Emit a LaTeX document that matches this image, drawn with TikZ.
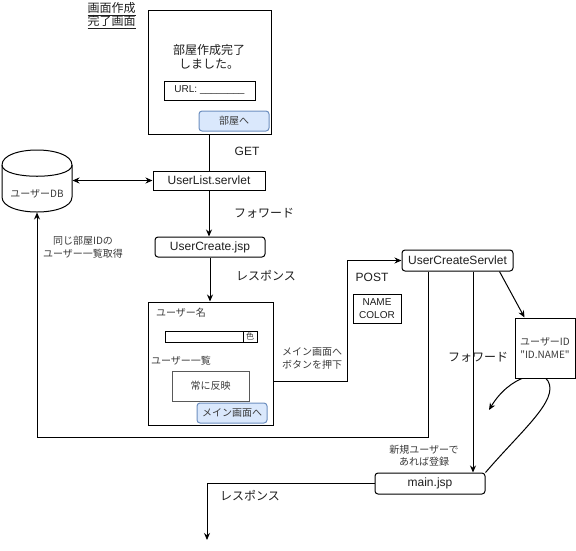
\documentclass[tikz,border=0pt]{standalone}
\usepackage{fontspec}
\setmainfont{Liberation Sans}
\newfontfamily\jp{Noto Sans CJK JP}
\usetikzlibrary{arrows.meta,calc}
\definecolor{btnfill}{HTML}{DAE8FC}
\definecolor{btnline}{HTML}{6C8EBF}
\definecolor{softtext}{HTML}{3A3A3A}
\definecolor{maintext}{HTML}{1E1E1E}
\newcommand{\fsL}{\fontsize{12}{14}\selectfont}
\newcommand{\fsS}{\fontsize{10}{12.5}\selectfont}

\begin{document}
\begin{tikzpicture}[x=1pt,y=-1pt,
  line width=1pt,
  every node/.style={text=maintext},
  box/.style={draw, inner sep=0pt, align=center},
  rbox/.style={box, rounded corners=3pt},
  btn/.style={rbox, fill=btnfill, draw=btnline, font=\jp\fsS, text=softtext},
  lbl/.style={inner sep=0pt, align=center},
  small/.style={lbl, font=\jp\fsS, text=softtext},
  arr/.style={-{Stealth[length=7pt,width=6pt]}},
  arrboth/.style={{Stealth[length=7pt,width=6pt]}-{Stealth[length=7pt,width=6pt]}},
]
\useasboundingbox (0,0) rectangle (576,550);

% --- screen: room created ---
\node[lbl, font=\jp\fontsize{12}{13.5}\selectfont] (title) at (111.5,15.5)
  {\underline{画面作成}\\\underline{完了画面}};
\node[box, minimum width=123pt, minimum height=124pt] (scr1) at (209.5,72) {};
\node[lbl, font=\jp\fsL] (done) at (209,57) {部屋作成完了\\しました。};
\node[box, font=\fsS, minimum width=91pt, minimum height=19pt] (url) at (209.5,90.5)
  {URL: \_\_\_\_\_\_\_\_};
\node[btn, minimum width=70pt, minimum height=20pt] (btn1) at (234,121) {部屋へ};

% --- user database (cylinder) ---
\node[inner sep=0pt, minimum width=70pt, minimum height=62pt] (db) at (37,181) {};
\draw (2,165) .. controls (2,145) and (72,145) .. (72,165) -- (72,197)
  .. controls (72,217) and (2,217) .. (2,197) -- cycle;
\draw (2,165) .. controls (2,180) and (72,180) .. (72,165);
\node[small] (dbname) at (37,194) {ユーザーDB};

% --- servlets and pages ---
\node[box, font=\fsL, minimum width=112pt, minimum height=19pt] (uls) at (209,180.5) {UserList.servlet};
\node[rbox, font=\fsL, minimum width=110pt, minimum height=20pt] (ucj) at (210,247) {UserCreate.jsp};
\node[rbox, font=\fsL, minimum width=111pt, minimum height=21pt] (ucs) at (457.5,260.5) {UserCreateServlet};
\node[rbox, font=\fsL, minimum width=110pt, minimum height=21pt] (mj) at (430,483.5) {main.jsp};
\node[box, font=\fsS, minimum width=48pt, minimum height=29pt] (nc) at (377,308.5) {NAME\\COLOR};

% --- screen: user creation ---
\node[box, minimum width=125pt, minimum height=123pt] (scr2) at (210.5,363.5) {};
\node[small] (uname) at (181,313) {ユーザー名};
\node[box, minimum width=78pt, minimum height=11pt] (namein) at (204,336.5) {};
\node[box, font=\jp\fontsize{8}{9}\selectfont, text=softtext, minimum width=14pt, minimum height=11pt] (colorin) at (250,336.5) {色};
\node[small] (ulist) at (181,361) {ユーザー一覧};
\node[box, draw=gray!70!black, font=\jp\fsS, text=softtext, minimum width=77pt, minimum height=30pt] (always) at (210.5,386) {常に反映};
\node[btn, minimum width=70pt, minimum height=20pt] (btn2) at (232,413) {メイン画面へ};

% --- connectors ---
\draw (scr1.south) -- (scr1.south |- uls.north);
\draw[arrboth] (db.east |- uls) -- (uls.west);
\draw[arr] (uls.south) -- (uls.south |- ucj.north);
\draw[arr] (ucj.south) -- (ucj.south |- scr2.north);

\coordinate (btnrow) at (347,381);
\draw[arr] (scr2.east |- btnrow) -- (btnrow) |- (ucs.west);

\coordinate (dbret) at (428,437);
\draw[arr] (ucs.south -| dbret) -- (dbret) -| (db.south);

\coordinate (fwd) at (473,437);
\draw[arr] (ucs.south -| fwd) -- (mj.north -| fwd);

\coordinate (respend) at (207,540);
\draw[arr] (mj.west) -| (respend);

\coordinate (loopend) at (489,410);
\draw[arr] (mj.north east) .. controls (522,430) and (559,400) .. (548,381)
  .. controls (543,369) and (510,375) .. (loopend);

\node[box, fill=white, font=\jp\fsS, text=softtext, minimum width=60pt, minimum height=60pt] (uid) at (545,348)
  {ユーザーID\\"ID.NAME"};
\draw[arr] ($(ucs.south east)+(-14,0)$) -- ($(uid.north west)+(10,0)$);

% --- labels ---
\node[lbl, font=\fsL] (get) at (247,151) {GET};
\node[lbl, font=\jp\fsL] (fw1) at (264,213) {フォワード};
\node[lbl, font=\jp\fsL] (resp1) at (266,276) {レスポンス};
\node[small] (getall) at (83,247) {同じ部屋IDの\\ユーザー一覧取得};
\node[small] (press) at (312,358.5) {メイン画面へ\\ボタンを押下};
\node[lbl, font=\fsL] (post) at (372,277) {POST};
\node[lbl, font=\jp\fsL] (fw2) at (478,357) {フォワード};
\node[small] (newu) at (424,455.5) {新規ユーザーで\\あれば登録};
\node[lbl, font=\jp\fsL] (resp2) at (250,496) {レスポンス};
\end{tikzpicture}
\end{document}
